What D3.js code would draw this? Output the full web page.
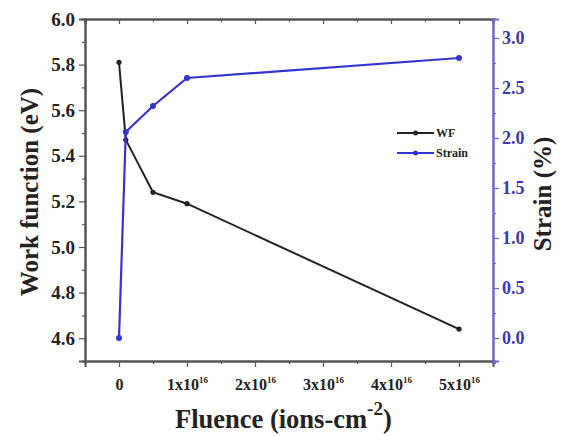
<!DOCTYPE html>
<html>
<head>
<meta charset="utf-8">
<script src="https://cdn.jsdelivr.net/npm/d3@7"></script>
<style>
  html, body { margin: 0; padding: 0; background: #fffffd; }
  svg { display: block; }
</style>
</head>
<body>
<div id="chart"></div>
<script>
// Fluence in units of 1e16 ions/cm^2
const fluence = [0, 0.1, 0.5, 1.0, 5.0];
// Work function (eV)
const workFunction = [5.81, 5.47, 5.24, 5.19, 4.64];
// Strain (%)
const strain = [0.0, 2.06, 2.32, 2.60, 2.80];

const xTicks = [0, 1, 2, 3, 4, 5];
const xMinorTicks = [-0.5, 0.5, 1.5, 2.5, 3.5, 4.5, 5.5];
const yLeftTicks = [4.6, 4.8, 5.0, 5.2, 5.4, 5.6, 5.8, 6.0];
const yLeftMinor = [4.5, 4.7, 4.9, 5.1, 5.3, 5.5, 5.7, 5.9];
const yRightTicks = [0.0, 0.5, 1.0, 1.5, 2.0, 2.5, 3.0];
const yRightMinor = [-0.25, 0.25, 0.75, 1.25, 1.75, 2.25, 2.75];

const W = 563, H = 436;
const plotLeft = 85, plotRight = 493, plotTop = 19, plotBottom = 361;
const BLUE = "#3434d2";
const BLACK = "#222222";
const SERIF = "'Liberation Serif', 'Times New Roman', serif";

const svg = d3.select("#chart").append("svg").attr("width", W).attr("height", H)
  .attr("font-family", SERIF).attr("font-weight", "bold");
svg.append("rect").attr("width", W).attr("height", H).attr("fill", "#fffffd");

const x = d3.scaleLinear().domain([-0.5, 5.5]).range([plotLeft, plotRight]);
const yL = d3.scaleLinear().domain([4.5, 6.0]).range([plotBottom, plotTop]);
const yR = d3.scaleLinear().domain([-0.23, 3.19]).range([plotBottom, plotTop]);

const fmt1 = d3.format(".1f");

function styleAxis(g, color) {
  g.attr("font-family", SERIF).attr("font-weight", "bold");
  g.selectAll("path.domain").attr("stroke", color).attr("stroke-width", 2);
  g.selectAll(".tick line").attr("stroke", color).attr("stroke-width", 1.2);
}

// Bottom axis
const gx = svg.append("g").attr("transform", `translate(0,${plotBottom})`)
  .call(d3.axisBottom(x).tickValues(xTicks).tickSize(6).tickPadding(8).tickFormat(() => ""));
gx.append("g").call(d3.axisBottom(x).tickValues(xMinorTicks).tickSize(3).tickFormat(""));
styleAxis(gx, "#555");
gx.selectAll(":scope > g.tick").each(function(d) {
  const t = d3.select(this).select("text")
    .attr("fill", BLACK).attr("font-size", 16).attr("y", 18);
  if (d === 0) {
    t.text("0");
  } else {
    t.text(null);
    t.append("tspan").text(`${d}x10`);
    t.append("tspan").attr("font-size", 9).attr("dy", -7).text("16");
  }
});

// Top frame
const gt = svg.append("g").attr("transform", `translate(0,${plotTop})`)
  .call(d3.axisBottom(x).tickValues(xTicks).tickSize(5).tickFormat(""));
gt.append("g").call(d3.axisBottom(x).tickValues(xMinorTicks).tickSize(3).tickFormat(""));
styleAxis(gt, "#555");

// Left axis
const gl = svg.append("g").attr("transform", `translate(${plotLeft},0)`)
  .call(d3.axisLeft(yL).tickValues(yLeftTicks).tickSize(6).tickPadding(4).tickFormat(fmt1));
gl.append("g").call(d3.axisLeft(yL).tickValues(yLeftMinor).tickSize(3).tickFormat(""));
styleAxis(gl, "#555");
gl.selectAll(".tick text").attr("fill", BLACK).attr("font-size", 19);

// Right axis
const gr = svg.append("g").attr("transform", `translate(${plotRight},0)`)
  .call(d3.axisRight(yR).tickValues(yRightTicks).tickSize(6).tickPadding(3).tickFormat(fmt1));
gr.append("g").call(d3.axisRight(yR).tickValues(yRightMinor).tickSize(3).tickFormat(""));
styleAxis(gr, "#6a6ad0");
gr.selectAll(".tick text").attr("fill", "#3a3ab8").attr("font-size", 18);

// Series
const wfData = fluence.map((f, i) => [f, workFunction[i]]);
const stData = fluence.map((f, i) => [f, strain[i]]);

svg.append("path").datum(wfData)
  .attr("fill", "none").attr("stroke", BLACK).attr("stroke-width", 2)
  .attr("d", d3.line().x(d => x(d[0])).y(d => yL(d[1])));
svg.append("g").selectAll("circle").data(wfData).join("circle")
  .attr("cx", d => x(d[0])).attr("cy", d => yL(d[1])).attr("r", 2.6).attr("fill", BLACK);

svg.append("path").datum(stData)
  .attr("fill", "none").attr("stroke", BLUE).attr("stroke-width", 2.2)
  .attr("d", d3.line().x(d => x(d[0])).y(d => yR(d[1])));
svg.append("g").selectAll("circle").data(stData).join("circle")
  .attr("cx", d => x(d[0])).attr("cy", d => yR(d[1])).attr("r", 3).attr("fill", BLUE);

// Legend
const legend = [
  { label: "WF", color: BLACK },
  { label: "Strain", color: BLUE }
];
const lg = svg.append("g").attr("transform", "translate(397,133)");
legend.forEach((d, i) => {
  const g = lg.append("g").attr("transform", `translate(0,${i * 20})`);
  g.append("line").attr("x1", 0).attr("x2", 37).attr("stroke", d.color).attr("stroke-width", 2);
  g.append("circle").attr("cx", 18.5).attr("r", 2.5).attr("fill", d.color);
  g.append("text").attr("x", 39).attr("y", 4).attr("font-size", 12).attr("fill", "#222").text(d.label);
});

// Axis titles
svg.append("text")
  .attr("transform", `translate(38,${(plotTop + plotBottom) / 2 + 2}) rotate(-90)`)
  .attr("text-anchor", "middle").attr("font-size", 25).attr("fill", BLACK)
  .text("Work function (eV)");

const xt = svg.append("text").attr("x", 175).attr("y", 428)
  .attr("font-size", 26.5).attr("fill", BLACK);
xt.append("tspan").text("Fluence (ions-cm");
xt.append("tspan").attr("font-size", 19).attr("dy", -13).text("-2");
xt.append("tspan").attr("dy", 13).attr("font-size", 26.5).text(")");

svg.append("text")
  .attr("transform", `translate(551,${yR(1.5) + 6}) rotate(-90)`)
  .attr("text-anchor", "middle").attr("font-size", 25).attr("fill", BLACK)
  .text("Strain (%)");
</script>
</body>
</html>
